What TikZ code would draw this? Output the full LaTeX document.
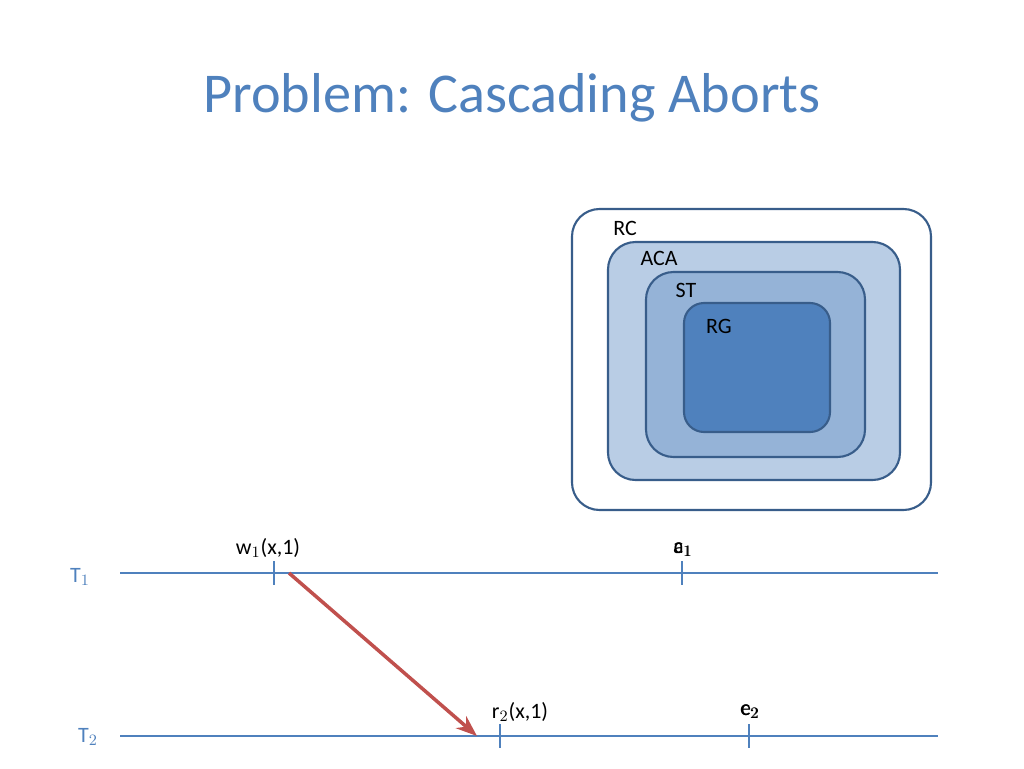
\documentclass[tikz,border=0pt]{standalone}
\usepackage{fontspec}
\setmainfont{Carlito}
\usetikzlibrary{arrows.meta}
\definecolor{slideblue}{RGB}{79,129,189}
\definecolor{darkblue}{RGB}{56,93,138}
\definecolor{lightblue}{RGB}{185,205,229}
\definecolor{midblue}{RGB}{149,179,215}
\definecolor{arrowred}{RGB}{192,80,77}
\tikzset{
  setbox/.style={draw=darkblue, line width=1.2pt, rounded corners=0.55cm},
  lbl/.style={font=\fontsize{12.5}{14}\selectfont},
  tline/.style={slideblue, line width=1.6pt},
}
\begin{document}
\begin{tikzpicture}[x=0.02cm, y=-0.02cm, >=Stealth]
  \useasboundingbox (0,0) rectangle (1024,768);
  % title
  \node[slideblue, font=\fontsize{32}{36}\selectfont] (title) at (512,98) {Problem: Cascading Aborts};
  % nested classes
  \draw[setbox, fill=white] (572,209) rectangle (931,510);
  \draw[setbox, fill=lightblue] (608,242) rectangle (900,480);
  \draw[setbox, fill=midblue] (646,272) rectangle (865,457);
  \draw[setbox, fill=slideblue, rounded corners=0.4cm] (684,303) rectangle (830,432);
  \node[lbl] (rc) at (625,228) {RC};
  \node[lbl] (aca) at (659,258) {ACA};
  \node[lbl] (st) at (686,290) {ST};
  \node[lbl] (rg) at (719,326) {RG};
  % transactions
  \coordinate (t1s) at (120,573); \coordinate (t1e) at (938,573);
  \coordinate (t2s) at (120,736); \coordinate (t2e) at (938,736);
  \draw[tline] (t1s) -- (t1e);
  \draw[tline] (t2s) -- (t2e);
  \node[lbl, slideblue] (T1) at (80,577) {T$_1$};
  \node[lbl, slideblue] (T2) at (88,737) {T$_2$};
  % operations
  \foreach \name/\x/\y in {w/274/573, c1/682/573, r/500/736, c2/749/736}
    \draw[tline] (\x,\y-12) coordinate (\name top) -- (\x,\y+12);
  \node[lbl] (wl) at (268,548) {w$_1$(x,1)};
  \node[lbl] (al) at (683,550) {a$_1$};
  \node[lbl] (cl) at (683,550) {c$_1$};
  \node[lbl] (rl) at (520,712) {r$_2$(x,1)};
  \node[lbl] (el) at (750,712) {e$_2$};
  \node[lbl] (cl2) at (750,712) {c$_2$};
  % dependency
  \coordinate (from) at (289,573);
  \coordinate (to) at (477,736);
  \draw[->, arrowred, line width=2pt] (from) -- (to);
\end{tikzpicture}
\end{document}
